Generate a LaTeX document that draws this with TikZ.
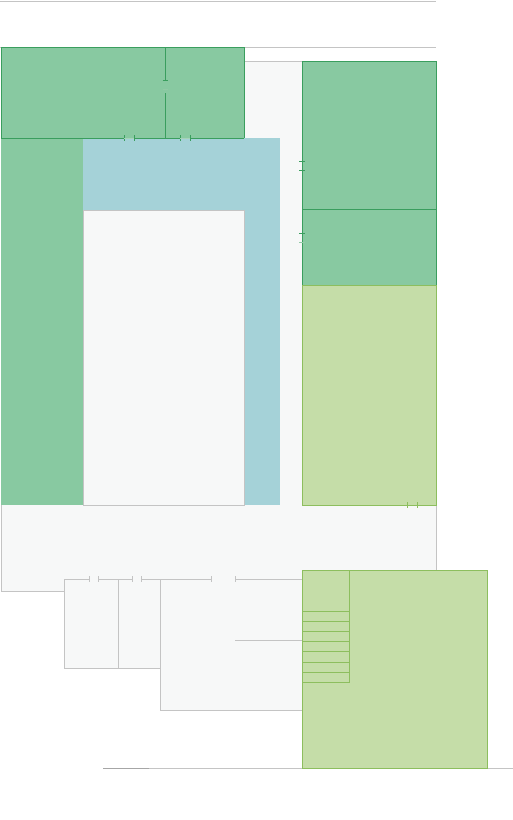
\documentclass[tikz,border=0pt]{standalone}
\definecolor{gfill}{HTML}{88C9A1}
\definecolor{gline}{HTML}{3A9E5E}
\definecolor{bfill}{HTML}{A5D2D8}
\definecolor{lgfill}{HTML}{C5DDA8}
\definecolor{lgline}{HTML}{8DBE5E}
\definecolor{pale}{HTML}{F7F8F8}
\definecolor{pline}{HTML}{C4C4C4}
\tikzset{
  wall/.style={draw=pline, line width=0.9pt},
  gwall/.style={draw=gline, line width=0.9pt},
  lgwall/.style={draw=lgline, line width=0.9pt}
}
\begin{document}
\begin{tikzpicture}[x=1pt,y=-1pt, line width=0.9pt]
\useasboundingbox (0,0) rectangle (513,820);
\fill[white] (0,0) rectangle (513,820);
% top lines
\draw[wall] (0,1) -- (436,1);
\draw[wall] (0,47) -- (436,47);
% big pale area
\draw[wall, fill=pale] (1,61) rectangle (436,591);
% top-left green room
\fill[gfill] (1,47) rectangle (244,138);
\draw[gwall] (1,138) -- (1,47) -- (244,47) -- (244,138);
% left green column and blue room
\fill[gfill] (1,138) rectangle (83,505);
\fill[bfill] (83,138) rectangle (280,505);
\draw[gwall] (1,138) -- (124,138) (134,138) -- (180,138) (190,138) -- (244,138);
\draw[gwall] (124,135) -- (124,141) (134,135) -- (134,141) (180,135) -- (180,141) (190,135) -- (190,141);
\draw[draw=gline!45, line width=0.9pt] (124,138) -- (134,138) (180,138) -- (190,138);
% door in top-left room
\draw[gwall] (165,47) -- (165,80) (162.5,80) -- (167.5,80) (165,93) -- (165,138);
\draw[draw=gline!55, line width=0.9pt] (162.5,89.5) -- (167.5,89.5);
% inner pale room
\draw[wall, fill=pale] (83,210) rectangle (244,505);
% right column
\draw[gwall, fill=gfill] (302,61) rectangle (436,209);
\draw[gwall, fill=gfill] (302,209) rectangle (436,285);
\draw[lgwall, fill=lgfill] (302,285) rectangle (436,505);
\draw[gwall] (299,161) -- (305,161) (299,170) -- (305,170) (299,233) -- (305,233);
\draw[draw=gline!55, line width=0.9pt] (299,242) -- (305,242);
\draw[lgwall] (407.5,502) -- (407.5,508) (417,502) -- (417,508);
% lower rooms
\fill[pale] (64,579) rectangle (160,668);
\fill[pale] (160,579) rectangle (302,710);
\draw[wall] (89,579) -- (64,579) -- (64,668) -- (160,668);
\draw[wall] (118,579) -- (118,668);
\draw[wall] (160,579) -- (160,710) -- (302,710);
\draw[wall] (98,579) -- (132,579) (141,579) -- (211,579) (235,579) -- (302,579);
\draw[wall] (89,576) -- (89,582) (98,576) -- (98,582) (132,576) -- (132,582) (141,576) -- (141,582) (211,576) -- (211,582) (235,576) -- (235,582);
\draw[wall] (235,640.5) -- (302,640.5);
% bottom line
\draw[wall] (103,768.5) -- (513,768.5);
\draw[draw=gray!70, line width=0.9pt] (103,768.5) -- (149,768.5);
% big light green room
\draw[lgwall, fill=lgfill] (302,570) rectangle (487,768.5);
\draw[lgwall] (349,570) -- (349,682.5);
\foreach \yy in {611.3,621.3,631.3,641.3,651.3,662,672.7,682.7}
  \draw[lgwall] (302,\yy) -- (349,\yy);
\end{tikzpicture}
\end{document}
